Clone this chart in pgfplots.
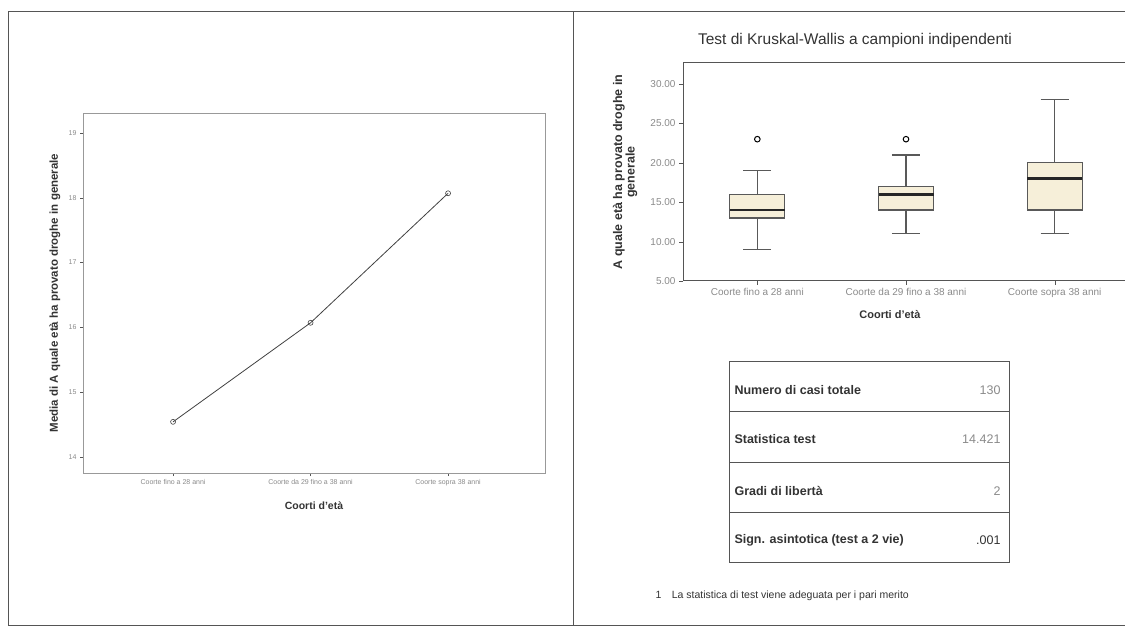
\documentclass[border=0pt]{standalone}
\usepackage{fontspec}
\setmainfont{Liberation Sans}
\usepackage{pgfplots}
\pgfplotsset{compat=1.18}
\usepgfplotslibrary{statistics}
\definecolor{boxfill}{HTML}{F6EFD9}
\definecolor{frame}{HTML}{555555}
\definecolor{ticktxt}{HTML}{8A8A8A}
\definecolor{labtxt}{HTML}{333333}
\begin{document}
\begin{tikzpicture}
\path[use as bounding box] (0pt,0pt) rectangle (1125pt,627pt);
\draw[frame, line width=1pt] (8pt,2pt) rectangle (1135pt,615pt);
\draw[frame, line width=1pt] (573pt,2pt) -- (573pt,615pt);

% Left chart: means
\begin{axis}[
  at={(83pt,154pt)}, anchor=south west,
  width=462pt, height=360pt, scale only axis,
  xmin=-0.655, xmax=2.705, ymin=13.75, ymax=19.31,
  xtick={0,1,2},
  xticklabels={Coorte fino a 28 anni, Coorte da 29 fino a 38 anni, Coorte sopra 38 anni},
  ytick={14,15,16,17,18,19},
  /pgf/number format/assume math mode=true,
  tick label style={font=\fontsize{7}{8}\selectfont, text=ticktxt},
  axis line style={gray!80},
  tick style={frame},
  tick align=outside, major tick length=3pt,
  xtick pos=bottom, ytick pos=left,
  xlabel={Coorti d'età},
  xlabel style={font=\bfseries\fontsize{10.5}{12}\selectfont, text=labtxt, at={(axis description cs:0.5,-0.09)}, anchor=center},
  ylabel={Media di A quale età ha provato droghe in generale},
  ylabel style={font=\bfseries\fontsize{11.5}{12}\selectfont, text=labtxt, at={(axis description cs:-0.061,0.5)}, anchor=center},
]
\addplot[black!75, line width=0.8pt, mark=o, mark size=2.5pt, mark options={solid, line width=0.6pt}]
  coordinates {(0,14.54) (1,16.07) (2,18.07)};
\end{axis}

% Title right
\node[font=\fontsize{15.5}{18}\selectfont, text=labtxt] at (855pt,587pt) {Test di Kruskal-Wallis a campioni indipendenti};

% Right chart: boxplot
\begin{axis}[
  at={(683pt,346pt)}, anchor=south west,
  width=446pt, height=218pt, scale only axis,
  xmin=0.5, xmax=3.5, ymin=5, ymax=32.67,
  xtick={1,2,3},
  xticklabels={Coorte fino a 28 anni, Coorte da 29 fino a 38 anni, Coorte sopra 38 anni},
  ytick={5,10,15,20,25,30},
  yticklabel={\pgfmathprintnumber[fixed,fixed zerofill,precision=2]{\tick}},
  /pgf/number format/assume math mode=true,
  tick label style={font=\fontsize{10}{11}\selectfont, text=ticktxt},
  axis line style={frame, line width=1pt},
  tick style={frame},
  tick align=outside, major tick length=4pt,
  xtick pos=bottom, ytick pos=left,
  xlabel={Coorti d'età},
  xlabel style={font=\bfseries\fontsize{11}{12}\selectfont, text=labtxt, at={(axis description cs:0.464,-0.155)}, anchor=center},
  ylabel={A quale età ha provato droghe in\\generale},
  ylabel style={font=\bfseries\fontsize{12.5}{12.5}\selectfont, text=labtxt, align=center, at={(axis description cs:-0.13,0.5)}, anchor=center},
  boxplot/draw direction=y,
  boxplot/box extend=0.37,
  boxplot/whisker extend=0.19,
  boxplot/every median/.style={black!85, line width=2.4pt},
]
\addplot[boxplot prepared={lower whisker=9, lower quartile=13, median=14, upper quartile=16, upper whisker=19, draw position=1},
  draw=gray!70!black, fill=boxfill, line width=1.2pt, solid,
  mark=o, mark size=2.8pt, mark options={black, fill=none, line width=1pt}]
  table[row sep=\\, y index=0] {data\\ 23\\};
\addplot[boxplot prepared={lower whisker=11, lower quartile=14, median=16, upper quartile=17, upper whisker=21, draw position=2},
  draw=gray!70!black, fill=boxfill, line width=1.2pt, solid,
  mark=o, mark size=2.8pt, mark options={black, fill=none, line width=1pt}]
  table[row sep=\\, y index=0] {data\\ 23\\};
\addplot[boxplot prepared={lower whisker=11, lower quartile=14, median=18, upper quartile=20, upper whisker=28, draw position=3},
  draw=gray!70!black, fill=boxfill, line width=1.2pt, solid]
  coordinates {};
\end{axis}

% Summary table
\begin{scope}[frame, line width=1pt]
\draw (729pt,65pt) rectangle (1009pt,265pt);
\draw (729pt,215pt) -- (1009pt,215pt);
\draw (729pt,164pt) -- (1009pt,164pt);
\draw (729pt,114pt) -- (1009pt,114pt);
\end{scope}
\begin{scope}[font=\bfseries\fontsize{12.5}{14}\selectfont, text=labtxt]
\node[anchor=west] at (731pt,237pt) {Numero di casi totale};
\node[anchor=west] at (731pt,188pt) {Statistica test};
\node[anchor=west] at (731pt,136pt) {Gradi di libertà};
\node[anchor=west] at (731pt,87pt) {Sign. asintotica (test a 2 vie)};
\end{scope}
\begin{scope}[font=\fontsize{12.5}{14}\selectfont, text=ticktxt]
\node[anchor=east] at (1004pt,237pt) {130};
\node[anchor=east] at (1004pt,188pt) {14.421};
\node[anchor=east] at (1004pt,136pt) {2};
\node[anchor=east, text=labtxt] at (1004pt,87pt) {.001};
\end{scope}
\node[anchor=west, font=\fontsize{10.5}{12}\selectfont, text=labtxt] at (652pt,31pt) {1\quad La statistica di test viene adeguata per i pari merito};
\end{tikzpicture}
\end{document}
